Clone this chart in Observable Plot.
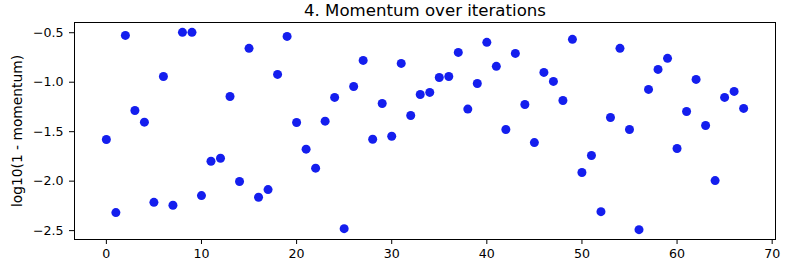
<!DOCTYPE html>
<html>
<head>
<meta charset="utf-8">
<script src="https://cdn.jsdelivr.net/npm/d3@7"></script>
<script src="https://cdn.jsdelivr.net/npm/@observablehq/plot@0.6"></script>
<style>
  html, body { margin: 0; padding: 0; background: #fff; }
  #chart svg { display: block; }
</style>
</head>
<body>
<div id="chart"></div>
<script>
const title = "4. Momentum over iterations";
const yLabel = "log10(1 - momentum)";
const iterations = d3.range(0, 68);
const logOneMinusMomentum = [
  -1.579, -2.318, -0.527, -1.286, -1.404, -2.214, -0.942, -2.244, -0.496, -0.496,
  -2.146, -1.799, -1.768, -1.144, -2.004, -0.658, -2.163, -2.085, -0.921, -0.537,
  -1.407, -1.677, -1.869, -1.394, -1.154, -2.480, -1.043, -0.780, -1.576, -1.215,
  -1.546, -0.810, -1.336, -1.124, -1.103, -0.952, -0.942, -0.699, -1.272, -1.013,
  -0.597, -0.840, -1.478, -0.709, -1.225, -1.610, -0.901, -0.992, -1.185, -0.567,
  -1.913, -1.741, -2.308, -1.357, -0.658, -1.478, -2.490, -1.073, -0.871, -0.759,
  -1.670, -1.296, -0.972, -1.437, -1.994, -1.154, -1.093, -1.265
];
const xTicks = [0, 10, 20, 30, 40, 50, 60, 70];
const yTicks = [-2.5, -2.0, -1.5, -1.0, -0.5];

const data = iterations.map((x, i) => ({x, y: logOneMinusMomentum[i]}));
const fmtY = d => d.toFixed(1).replace("-", "\u2212");

const chart = Plot.plot({
  width: 792,
  height: 267,
  marginTop: 22,
  marginRight: 17,
  marginBottom: 28,
  marginLeft: 74,
  style: {fontFamily: "DejaVu Sans", fontSize: "12.6px", color: "#000", background: "#fff", overflow: "visible"},
  x: {domain: [-3.35, 70.35], label: null},
  y: {domain: [-2.5897, -0.3966], label: null},
  marks: [
    Plot.axisX({ticks: xTicks, tickFormat: d => String(d), tickSize: 5, tickPadding: 5, label: null, stroke: "#000", strokeOpacity: 1, fontSize: 12.6}),
    Plot.axisY({ticks: yTicks, tickFormat: fmtY, tickSize: 5, tickPadding: 6, label: null, stroke: "#000", strokeOpacity: 1, fontSize: 12.6}),
    Plot.axisY({ticks: [], tickSize: 0, label: yLabel, labelAnchor: "center", labelArrow: "none", labelOffset: 62, fontSize: 13.8}),
    Plot.frame({stroke: "#000", strokeWidth: 1}),
    Plot.dot(data, {x: "x", y: "y", r: 4.5, fill: "rgb(20,30,238)", stroke: "none"}),
    Plot.text([title], {frameAnchor: "top", text: d => d, dy: -7, lineAnchor: "bottom", fontSize: 16.6, fill: "#000"})
  ]
});
document.getElementById("chart").appendChild(chart);
</script>
</body>
</html>
